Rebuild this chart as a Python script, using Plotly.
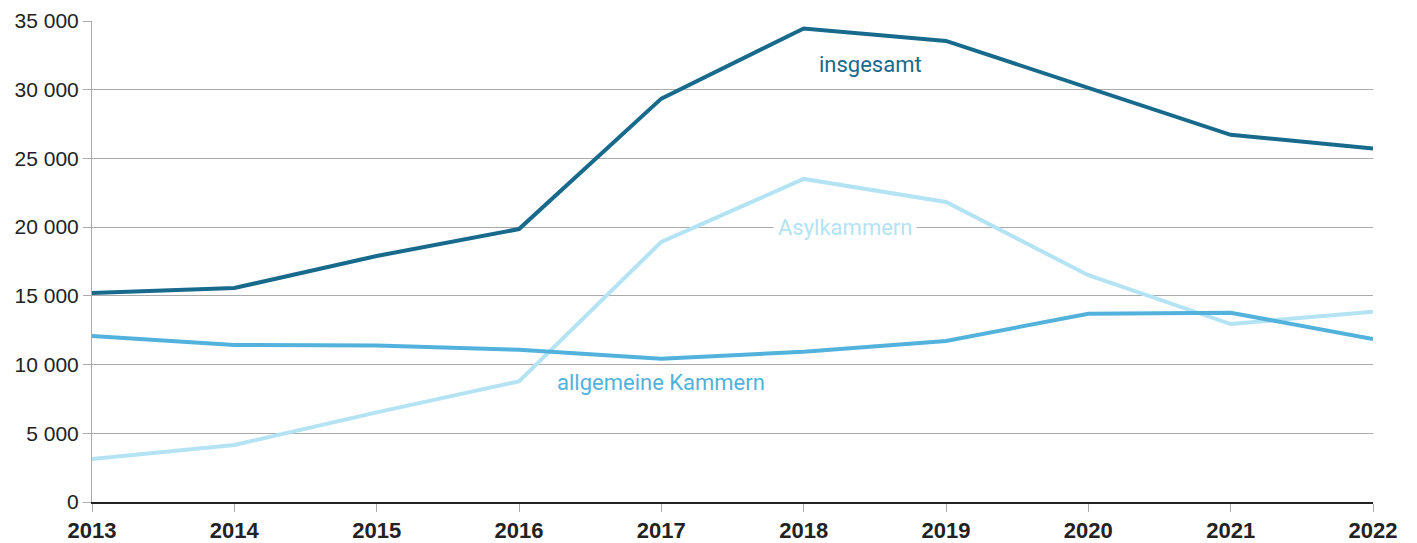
import plotly.graph_objects as go

years = [2013, 2014, 2015, 2016, 2017, 2018, 2019, 2020, 2021, 2022]
insgesamt = [15200, 15570, 17900, 19860, 29350, 34450, 33550, 30170, 26720, 25720]
allgemeine = [12080, 11425, 11380, 11080, 10420, 10930, 11720, 13700, 13770, 11860]
asyl = [3130, 4150, 6520, 8780, 18930, 23510, 21830, 16500, 12950, 13850]
yticks = [0, 5000, 10000, 15000, 20000, 25000, 30000, 35000]

c_ins = "#176a8c"
c_all = "#52b2dc"
c_asy = "#b4e3f4"

fig = go.Figure()
fig.add_trace(go.Scatter(x=years, y=asyl, mode="lines", line=dict(color=c_asy, width=4), name="Asylkammern"))
fig.add_trace(go.Scatter(x=years, y=allgemeine, mode="lines", line=dict(color=c_all, width=4), name="allgemeine Kammern"))
fig.add_trace(go.Scatter(x=years, y=insgesamt, mode="lines", line=dict(color=c_ins, width=4), name="insgesamt"))

font = "Roboto, 'Liberation Sans', Arial, sans-serif"
fig.add_annotation(x=2018.47, y=31800, text="insgesamt", showarrow=False, font=dict(color=c_ins, size=22, family=font))
fig.add_annotation(x=2018.29, y=20000, text="Asylkammern", showarrow=False, font=dict(color=c_asy, size=22, family=font), bgcolor="white", borderpad=4)
fig.add_annotation(x=2017.0, y=8660, text="allgemeine Kammern", showarrow=False, font=dict(color=c_all, size=22, family=font))

fig.update_layout(
    width=1417, height=543,
    margin=dict(l=92, r=44, t=21, b=41, autoexpand=False),
    plot_bgcolor="white", paper_bgcolor="white",
    showlegend=False,
    separators=", ",
    font=dict(family=font, color="#222222"),
)
fig.update_xaxes(
    range=[2013, 2022], tickvals=years, ticktext=[f"<b>{y}</b>" for y in years],
    showgrid=False, showline=True, linecolor="#222222", linewidth=2,
    ticks="outside", ticklen=8, tickcolor="#aaaaaa", tickwidth=1,
    tickfont=dict(size=22, color="#222222", family="'Liberation Sans', Arial, sans-serif"),
    zeroline=False,
)
fig.update_yaxes(
    range=[0, 35000], tickvals=yticks, tickformat=",d",
    showgrid=True, gridcolor="#aaaaaa", gridwidth=1,
    showline=True, linecolor="#aaaaaa", linewidth=1,
    ticks="outside", ticklen=8, tickcolor="#aaaaaa",
    tickfont=dict(size=21, color="#222222", family="'Liberation Sans', Arial, sans-serif"),
    zeroline=False,
)

fig.write_html("out.html", config={"displayModeBar": False},
               post_script="document.body.style.margin='0';document.body.style.padding='0';")
